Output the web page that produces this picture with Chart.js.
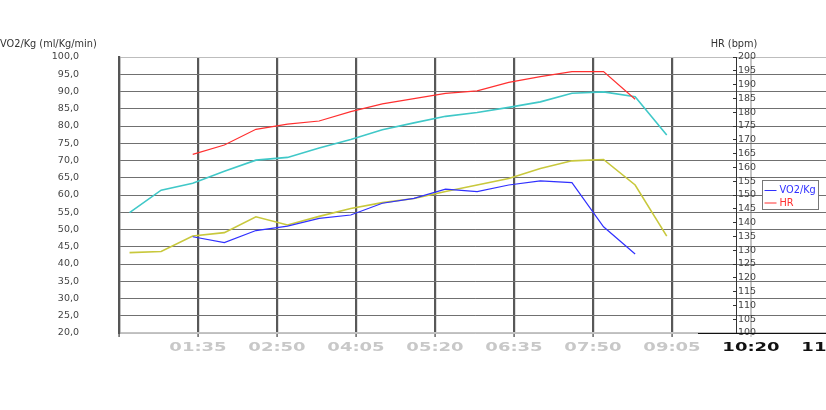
<!DOCTYPE html>
<html><head><meta charset="utf-8">
<script src="https://cdn.jsdelivr.net/npm/chart.js@4/dist/chart.umd.min.js"></script>
<style>html,body{margin:0;padding:0;overflow:hidden;background:#fff;width:826px;height:410px}canvas{display:block}</style>
</head><body><canvas id="c" width="850" height="410" style="width:850px;height:410px"></canvas>
<script>
// ---- data (elapsed seconds) ----
const timesSec = [30,60,90,120,150,180,210,240,270,300,330,360,390,420,450,480,510,540];
const vo2Kg   = [null,null,47.9,46.2,49.7,51.0,53.2,54.2,57.6,59.0,61.7,61.0,62.9,64.1,63.6,50.8,42.9,null];
const hrBpm   = [null,null,164.7,168.1,173.8,175.7,176.8,180.2,183.0,184.9,186.8,187.7,190.8,192.9,194.7,194.7,184.7,null];
const cyanSeries   = [54.9,61.4,63.4,66.9,70.1,70.9,73.6,76.1,78.9,80.9,82.8,83.9,85.4,87.0,89.5,89.9,88.5,77.4];
const yellowSeries = [43.3,43.6,48.1,49.1,53.7,51.3,53.8,56.1,57.8,59.0,61.0,62.9,64.8,67.7,69.9,70.3,62.9,48.1];
const xTickSec = [20,95,170,245,320,395,470,545,620,695];
const seriesLabels = ['VO2/Kg','HR','',''];
const leftTitle = 'VO2/Kg (ml/Kg/min)';
const rightTitle = 'HR (bpm)';

const X_MIN = 20, X_MAX = 695, LAST_GRAY_TICK = 545, HR_AXIS_AT = 606.7, HR_LABELS_AT = 624.8;
const FONT = 'DejaVu Sans';
const LABEL_STRETCH = 1.5;

function mmss(s){const m=Math.floor(s/60),r=s%60;return String(m).padStart(2,'0')+':'+String(r).padStart(2,'0');}
function pts(arr){return timesSec.map((t,i)=>({x:t,y:arr[i]}));}

class StretchLinear extends Chart.LinearScale {
  drawLabels(area){
    const ctx=this.ctx;
    for(const it of this.getLabelItems(area)){
      const o=it.options;
      if(!it.label) continue;
      ctx.save();
      ctx.translate(o.translation[0],o.translation[1]);
      ctx.scale(LABEL_STRETCH,1);
      ctx.font=it.font.string;
      ctx.fillStyle=o.color;
      ctx.textAlign='center';
      ctx.textBaseline=o.textBaseline||'middle';
      ctx.fillText(it.label,0,it.textOffset);
      ctx.restore();
    }
  }
}
StretchLinear.id='stretchLinear';
StretchLinear.defaults=Chart.LinearScale.defaults;
Chart.register(StretchLinear);

const decor = {
  id:'decor',
  afterDraw(chart){
    const ctx=chart.ctx, a=chart.chartArea, xs=chart.scales.x;
    const hrPx=xs.getPixelForValue(HR_AXIS_AT);
    ctx.save();
    ctx.font='9.75px "'+FONT+'"';
    ctx.fillStyle='#333';
    ctx.textBaseline='middle';
    ctx.textAlign='left';
    ctx.fillText(leftTitle,0,a.top-13);
    ctx.textAlign='center';
    ctx.fillText(rightTitle,hrPx-3,a.top-13);
    ctx.strokeStyle='#111';ctx.lineWidth=1.2;
    ctx.beginPath();ctx.moveTo(hrPx-39,a.bottom+0.5);ctx.lineTo(chart.width,a.bottom+0.5);ctx.stroke();
    const lx=Math.round(hrPx+25)+0.5, ly=Math.round(a.top+123)+0.5, lw=56, lh=29;
    ctx.fillStyle='#fff';ctx.fillRect(lx,ly,lw,lh);
    ctx.strokeStyle='#777';ctx.lineWidth=1;ctx.strokeRect(lx,ly,lw,lh);
    const ds=chart.data.datasets.filter(d=>d.label);
    ds.forEach((d,i)=>{
      const yy=ly+10+i*12.5;
      ctx.strokeStyle=d.borderColor;ctx.lineWidth=1;
      ctx.beginPath();ctx.moveTo(lx+2,yy);ctx.lineTo(lx+14,yy);ctx.stroke();
      ctx.fillStyle=d.borderColor;ctx.textAlign='left';ctx.font='9.75px "'+FONT+'"';
      ctx.fillText(d.label,lx+17,yy);
    });
    ctx.restore();
  }
};

new Chart(document.getElementById('c'),{
  type:'line',
  data:{datasets:[
    {label:seriesLabels[0],data:pts(vo2Kg),yAxisID:'y',borderColor:'#3030ff',borderWidth:1.2,pointRadius:0,spanGaps:false},
    {label:seriesLabels[1],data:pts(hrBpm),yAxisID:'yHR',borderColor:'#ff3030',borderWidth:1.2,pointRadius:0,spanGaps:false},
    {label:seriesLabels[2],data:pts(cyanSeries),yAxisID:'y',borderColor:'#40c8c8',borderWidth:1.6,pointRadius:0},
    {label:seriesLabels[3],data:pts(yellowSeries),yAxisID:'y',borderColor:'#c8c83c',borderWidth:1.6,pointRadius:0}
  ]},
  options:{
    responsive:false,animation:false,
    layout:{padding:{top:57,left:0,right:20,bottom:51}},
    plugins:{legend:{display:false},tooltip:{enabled:false}},
    scales:{
      x:{type:'stretchLinear',min:X_MIN,max:X_MAX,
        afterBuildTicks:s=>{s.ticks=xTickSec.map(v=>({value:v}));},
        afterFit:s=>{s.height=26;s.paddingLeft=0;s.paddingRight=0;},
        grid:{color:c=>c.tick&&c.tick.value>LAST_GRAY_TICK?'#c4c4c4':'#585858',lineWidth:c=>c.tick&&c.tick.value>LAST_GRAY_TICK?2:2.2,tickLength:4,
          tickColor:c=>c.tick&&c.tick.value>LAST_GRAY_TICK?'#c4c4c4':'#666',tickWidth:1.5},
        border:{color:'#c4c4c4',width:1.2},
        ticks:{autoSkip:false,maxRotation:0,padding:4,
          callback:v=>v===X_MIN?'':mmss(v),
          color:c=>c.tick&&c.tick.value>LAST_GRAY_TICK?'#111':'#c8c8c8',
          font:{family:FONT,size:12,weight:'bold'}}
      },
      y:{position:'left',min:20,max:100,
        afterFit:s=>{s.width=119;s.paddingTop=0;s.paddingBottom=0;},
        ticks:{stepSize:5,autoSkip:false,padding:40,color:'#444',font:{family:FONT,size:9.5},
          callback:v=>v.toFixed(1).replace('.',',')},
        grid:{drawTicks:false,color:c=>(c.tick&&(c.tick.value===20||c.tick.value===100))?'#bdbdbd':'#707070',lineWidth:1},
        border:{color:'#555',width:2.2}
      },
      yHR:{position:{x:HR_AXIS_AT},min:100,max:200,
        afterFit:s=>{s.paddingTop=0;s.paddingBottom=0;},
        ticks:{stepSize:5,autoSkip:false,display:false},
        grid:{drawOnChartArea:false,tickLength:3,color:'#333'},
        border:{color:'#333',width:1}
      },
      yHRLabels:{position:{x:HR_LABELS_AT},min:100,max:200,
        afterFit:s=>{s.paddingTop=0;s.paddingBottom=0;},
        ticks:{stepSize:5,autoSkip:false,padding:0,color:'#444',font:{family:FONT,size:9.5}},
        grid:{display:false,drawOnChartArea:false,drawTicks:false},
        border:{display:false}
      }
    }
  },
  plugins:[decor]
});
</script></body></html>
